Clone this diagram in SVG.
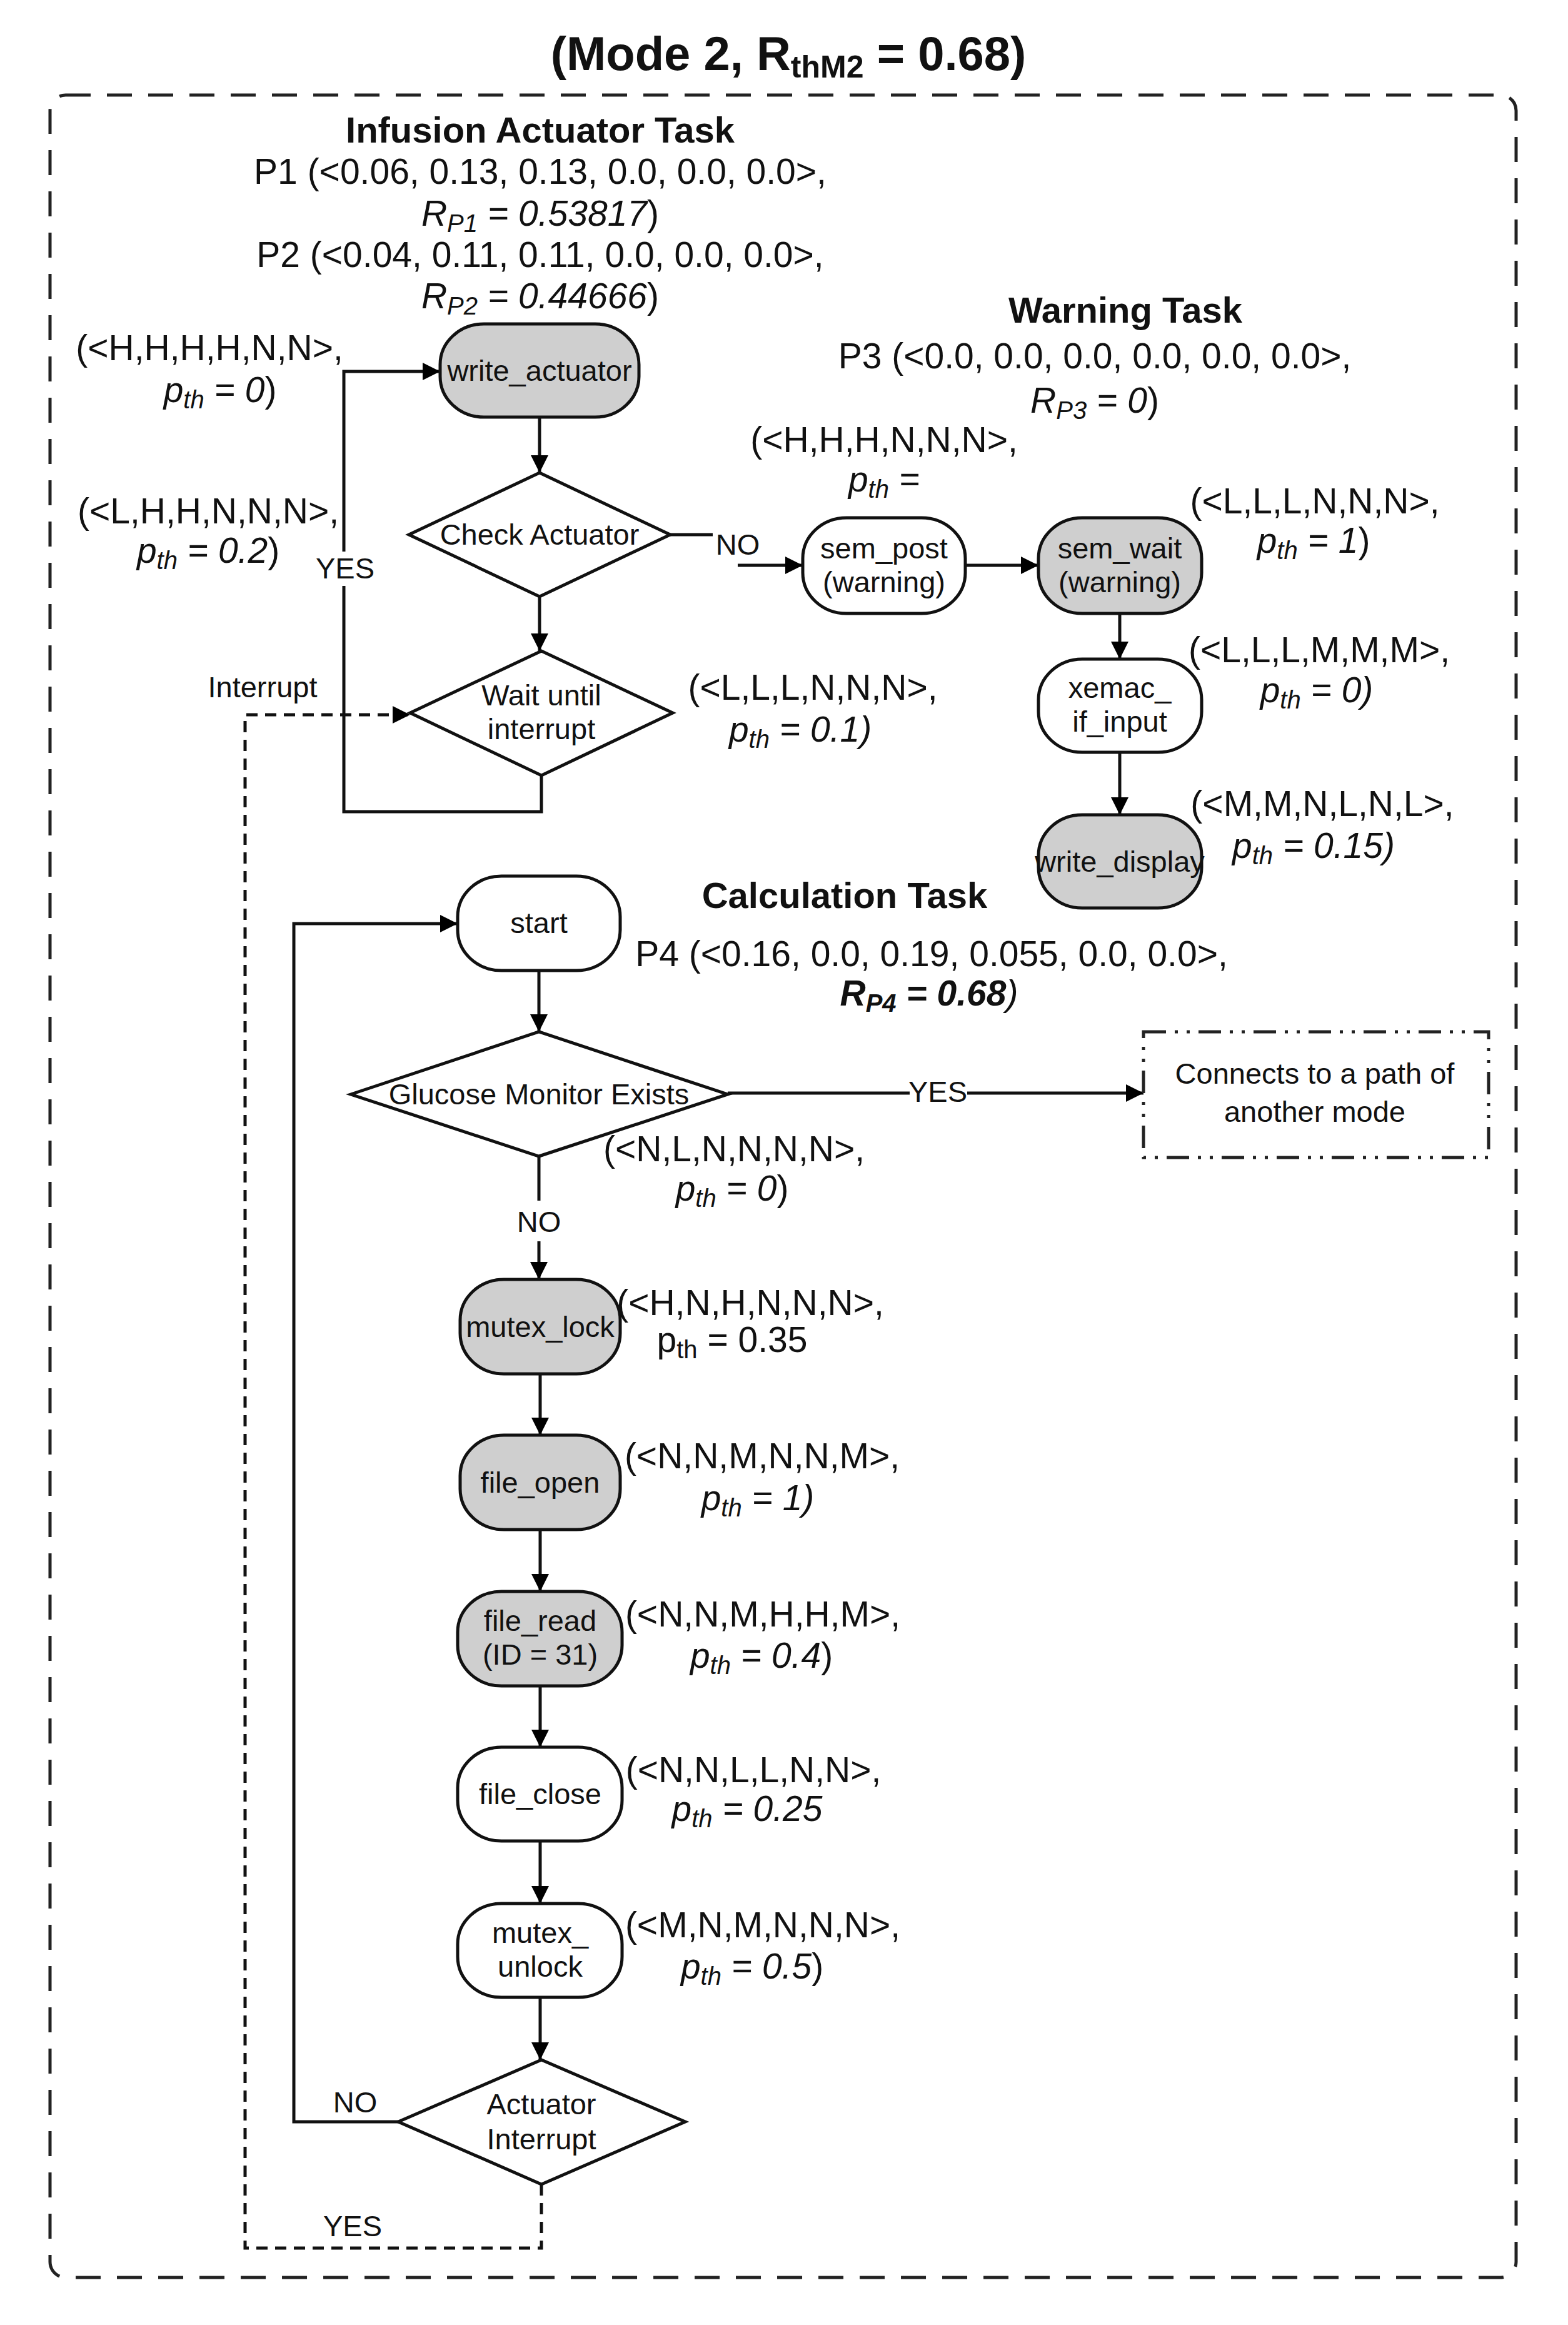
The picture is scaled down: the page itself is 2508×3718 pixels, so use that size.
<svg xmlns="http://www.w3.org/2000/svg" width="2508" height="3718" viewBox="0 0 2508 3718">
<defs>
<marker id="ah" viewBox="0 0 10 10" refX="10" refY="5" markerWidth="34" markerHeight="28" markerUnits="userSpaceOnUse" orient="auto">
<path d="M0,0 L10,5 L0,10 Z" fill="#000"/>
</marker>
<style>
text{font-family:"Liberation Sans",Arial,sans-serif;fill:#111}
.t{font-size:57px;text-anchor:middle}
.b{font-weight:bold;font-size:58px;text-anchor:middle}
.n{font-size:47px;text-anchor:middle}
.i{font-style:italic}
.s{font-size:40px}
.node{stroke:#111;stroke-width:5;fill:#fff}
.g{fill:#cfcfcf}
.c{stroke:#111;stroke-width:5;fill:none}
.d{stroke-dasharray:18 12}
</style>
</defs>
<rect x="80" y="152" width="2345" height="3490" rx="25" fill="none" stroke="#222" stroke-width="5" stroke-dasharray="40 26"/>
<text x="1261" y="112" style="font-size:76px;font-weight:bold;text-anchor:middle">(Mode 2, R<tspan dy="12" style="font-size:50px">thM2</tspan><tspan dy="-12"> = 0.68)</tspan></text>

<g id="labels">
<text class="b" x="864" y="228">Infusion Actuator Task</text>
<text class="t" x="864" y="294">P1 (&lt;0.06, 0.13, 0.13, 0.0, 0.0, 0.0&gt;,</text>
<text class="t" x="864" y="361"><tspan class="i">R</tspan><tspan class="i s" dy="10">P1</tspan><tspan class="i" dy="-10"> = 0.53817</tspan>)</text>
<text class="t" x="864" y="427">P2 (&lt;0.04, 0.11, 0.11, 0.0, 0.0, 0.0&gt;,</text>
<text class="t" x="864" y="493"><tspan class="i">R</tspan><tspan class="i s" dy="10">P2</tspan><tspan class="i" dy="-10"> = 0.44666</tspan>)</text>
<text class="t" x="335" y="576">(&lt;H,H,H,H,N,N&gt;,</text>
<text class="t" x="352" y="643"><tspan class="i">p</tspan><tspan class="i s" dy="10">th</tspan><tspan class="i" dy="-10"> = 0</tspan>)</text>
<text class="t" x="333" y="837">(&lt;L,H,H,N,N,N&gt;,</text>
<text class="t" x="333" y="900"><tspan class="i">p</tspan><tspan class="i s" dy="10">th</tspan><tspan class="i" dy="-10"> = 0.2</tspan>)</text>
<text class="b" x="1800" y="516">Warning Task</text>
<text class="t" x="1751" y="589">P3 (&lt;0.0, 0.0, 0.0, 0.0, 0.0, 0.0&gt;,</text>
<text class="t" x="1751" y="660"><tspan class="i">R</tspan><tspan class="i s" dy="10">P3</tspan><tspan class="i" dy="-10"> = 0</tspan>)</text>
<text class="t" x="1414" y="723">(&lt;H,H,H,N,N,N&gt;,</text>
<text class="t" x="1414" y="786"><tspan class="i">p</tspan><tspan class="i s" dy="10">th</tspan><tspan class="i" dy="-10"> =</tspan></text>
<text class="t" x="2103" y="821">(&lt;L,L,L,N,N,N&gt;,</text>
<text class="t" x="2101" y="884"><tspan class="i">p</tspan><tspan class="i s" dy="10">th</tspan><tspan class="i" dy="-10"> = 1</tspan>)</text>
<text class="t" x="2110" y="1059">(&lt;L,L,L,M,M,M&gt;,</text>
<text class="t" x="2106" y="1123"><tspan class="i">p</tspan><tspan class="i s" dy="10">th</tspan><tspan class="i" dy="-10"> = 0)</tspan></text>
<text class="t" x="2115" y="1305">(&lt;M,M,N,L,N,L&gt;,</text>
<text class="t" x="2101" y="1372"><tspan class="i">p</tspan><tspan class="i s" dy="10">th</tspan><tspan class="i" dy="-10"> = 0.15)</tspan></text>
<text class="t" x="1300" y="1119">(&lt;L,L,L,N,N,N&gt;,</text>
<text class="t" x="1280" y="1186"><tspan class="i">p</tspan><tspan class="i s" dy="10">th</tspan><tspan class="i" dy="-10"> = 0.1)</tspan></text>
<text class="b" x="1351" y="1452">Calculation Task</text>
<text class="t" x="1490" y="1545">P4 (&lt;0.16, 0.0, 0.19, 0.055, 0.0, 0.0&gt;,</text>
<text class="t" x="1486" y="1608"><tspan class="i" font-weight="bold">R</tspan><tspan class="i s" font-weight="bold" dy="10">P4</tspan><tspan class="i" font-weight="bold" dy="-10"> = 0.68</tspan><tspan class="i">)</tspan></text>
<text class="t" x="1174" y="1857">(&lt;N,L,N,N,N,N&gt;,</text>
<text class="t" x="1171" y="1920"><tspan class="i">p</tspan><tspan class="i s" dy="10">th</tspan><tspan class="i" dy="-10"> =  0</tspan>)</text>
<text class="t" x="1200" y="2103">(&lt;H,N,H,N,N,N&gt;,</text>
<text class="t" x="1171" y="2162">p<tspan class="s" dy="10">th</tspan><tspan dy="-10"> = 0.35</tspan></text>
<text class="t" x="1219" y="2348">(&lt;N,N,M,N,N,M&gt;,</text>
<text class="t" x="1212" y="2415"><tspan class="i">p</tspan><tspan class="i s" dy="10">th</tspan><tspan class="i" dy="-10"> = 1)</tspan></text>
<text class="t" x="1220" y="2601">(&lt;N,N,M,H,H,M&gt;,</text>
<text class="t" x="1218" y="2667"><tspan class="i">p</tspan><tspan class="i s" dy="10">th</tspan><tspan class="i" dy="-10"> = 0.4</tspan>)</text>
<text class="t" x="1205" y="2850">(&lt;N,N,L,L,N,N&gt;,</text>
<text class="t" x="1195" y="2912"><tspan class="i">p</tspan><tspan class="i s" dy="10">th</tspan><tspan class="i" dy="-10"> = 0.25</tspan></text>
<text class="t" x="1220" y="3098">(&lt;M,N,M,N,N,N&gt;,</text>
<text class="t" x="1203" y="3164"><tspan class="i">p</tspan><tspan class="i s" dy="10">th</tspan><tspan class="i" dy="-10"> = 0.5</tspan>)</text>
</g>

<g id="connectors">
<path class="c" d="M866,1240 V1298 H550 V594 H704" marker-end="url(#ah)"/>
<path class="c" d="M863,667 V756" marker-end="url(#ah)"/>
<path class="c" d="M863,954 V1041" marker-end="url(#ah)"/>
<path class="c" d="M1072,855 H1140"/>
<path class="c" d="M1180,904 H1284" marker-end="url(#ah)"/>
<path class="c" d="M1544,904 H1661" marker-end="url(#ah)"/>
<path class="c" d="M1791,981 V1054" marker-end="url(#ah)"/>
<path class="c" d="M1791,1203 V1303" marker-end="url(#ah)"/>
<path class="c d" d="M866,3493 V3595 H392 V1143 H656" marker-end="url(#ah)"/>
<path class="c" d="M637,3393 H470 V1477 H732" marker-end="url(#ah)"/>
<path class="c" d="M862,1552 V1650" marker-end="url(#ah)"/>
<path class="c" d="M1164,1748 H1829" marker-end="url(#ah)"/>
<path class="c" d="M862,1849 V1920"/>
<path class="c" d="M862,1985 V2046" marker-end="url(#ah)"/>
<path class="c" d="M864,2197 V2295" marker-end="url(#ah)"/>
<path class="c" d="M864,2446 V2545" marker-end="url(#ah)"/>
<path class="c" d="M864,2696 V2794" marker-end="url(#ah)"/>
<path class="c" d="M864,2944 V3044" marker-end="url(#ah)"/>
<path class="c" d="M864,3194 V3294" marker-end="url(#ah)"/>
<rect x="512" y="882" width="80" height="55" fill="#fff"/>
<rect x="1455" y="1722" width="92" height="50" fill="#fff"/>
<text class="n" x="552" y="925">YES</text>
<text class="n" x="1180" y="887">NO</text>
<text class="n" x="420" y="1115">Interrupt</text>
<text class="n" x="1500" y="1762">YES</text>
<text class="n" x="862" y="1970">NO</text>
<text class="n" x="568" y="3378">NO</text>
<text class="n" x="564" y="3576">YES</text>
</g>

<g id="write_actuator"><rect class="node g" x="704" y="518" width="318" height="149" rx="70" ry="65"/><text class="n" x="863" y="609">write_actuator</text></g>
<g id="check_actuator"><polygon class="node" points="654,855 863,756 1072,855 863,954"/><text class="n" x="863" y="871">Check Actuator</text></g>
<g id="wait_interrupt"><polygon class="node" points="656,1140 866,1041 1076,1140 866,1240"/><text class="n" x="866" y="1128">Wait until</text><text class="n" x="866" y="1182">interrupt</text></g>
<g id="sem_post"><rect class="node" x="1284" y="828" width="260" height="153" rx="70" ry="65"/><text class="n" x="1414" y="893">sem_post</text><text class="n" x="1414" y="947">(warning)</text></g>
<g id="sem_wait"><rect class="node g" x="1661" y="828" width="261" height="153" rx="70" ry="65"/><text class="n" x="1791" y="893">sem_wait</text><text class="n" x="1791" y="947">(warning)</text></g>
<g id="xemac"><rect class="node" x="1661" y="1054" width="261" height="149" rx="70" ry="65"/><text class="n" x="1791" y="1116">xemac_</text><text class="n" x="1791" y="1170">if_input</text></g>
<g id="write_display"><rect class="node g" x="1661" y="1303" width="261" height="149" rx="70" ry="65"/><text class="n" x="1791" y="1394">write_display</text></g>
<g id="start"><rect class="node" x="732" y="1401" width="260" height="151" rx="70" ry="65"/><text class="n" x="862" y="1492">start</text></g>
<g id="glucose"><polygon class="node" points="561,1750 862,1650 1164,1750 862,1849"/><text class="n" x="862" y="1766">Glucose Monitor Exists</text></g>
<g id="other_mode"><rect x="1829" y="1650" width="552" height="201" fill="none" stroke="#222" stroke-width="5" stroke-dasharray="36 14 5 14 5 14"/><text class="n" x="2103" y="1733">Connects to a path of</text><text class="n" x="2103" y="1794">another mode</text></g>
<g id="mutex_lock"><rect class="node g" x="736" y="2046" width="256" height="151" rx="70" ry="65"/><text class="n" x="864" y="2138">mutex_lock</text></g>
<g id="file_open"><rect class="node g" x="736" y="2295" width="256" height="151" rx="70" ry="65"/><text class="n" x="864" y="2387">file_open</text></g>
<g id="file_read"><rect class="node g" x="732" y="2545" width="263" height="151" rx="70" ry="65"/><text class="n" x="864" y="2608">file_read</text><text class="n" x="864" y="2662">(ID = 31)</text></g>
<g id="file_close"><rect class="node" x="732" y="2794" width="263" height="150" rx="70" ry="65"/><text class="n" x="864" y="2885">file_close</text></g>
<g id="mutex_unlock"><rect class="node" x="732" y="3044" width="263" height="150" rx="70" ry="65"/><text class="n" x="864" y="3107">mutex_</text><text class="n" x="864" y="3161">unlock</text></g>
<g id="actuator_interrupt"><polygon class="node" points="637,3393 866,3294 1096,3393 866,3493"/><text class="n" x="866" y="3381">Actuator</text><text class="n" x="866" y="3437">Interrupt</text></g>
</svg>
